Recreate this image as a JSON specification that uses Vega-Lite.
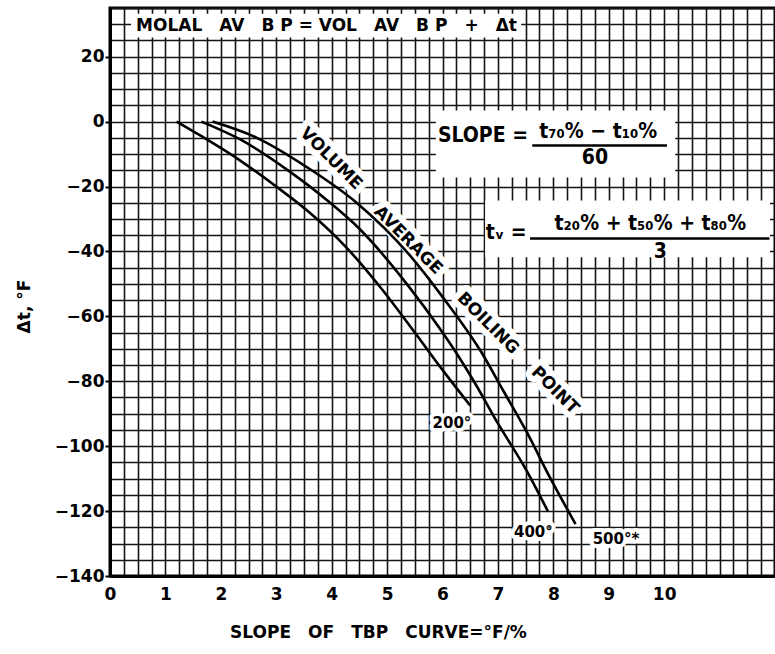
{
  "$schema": "https://vega.github.io/schema/vega-lite/v6.json",
  "width": 665,
  "height": 568,
  "autosize": "none",
  "padding": {"left": 110, "top": 8, "right": 0, "bottom": 78},
  "background": "white",
  "config": {"view": {"stroke": "black", "strokeWidth": 3}, "font": "DejaVu Sans"},
  "datasets": {
    "curves": [
      {"series": "200", "x": 1.2, "y": 0}, {"series": "200", "x": 1.65, "y": -4.5}, {"series": "200", "x": 2.35, "y": -12},
      {"series": "200", "x": 3.0, "y": -20}, {"series": "200", "x": 3.6, "y": -28}, {"series": "200", "x": 4.25, "y": -38.5},
      {"series": "200", "x": 4.9, "y": -51.5}, {"series": "200", "x": 5.5, "y": -65}, {"series": "200", "x": 6.0, "y": -76.5},
      {"series": "200", "x": 6.5, "y": -87.5},
      {"series": "400", "x": 1.65, "y": 0}, {"series": "400", "x": 2.35, "y": -5.5}, {"series": "400", "x": 3.25, "y": -15.5},
      {"series": "400", "x": 3.9, "y": -24}, {"series": "400", "x": 4.5, "y": -33}, {"series": "400", "x": 5.4, "y": -51},
      {"series": "400", "x": 5.9, "y": -62.5}, {"series": "400", "x": 6.2, "y": -70}, {"series": "400", "x": 6.6, "y": -81},
      {"series": "400", "x": 7.0, "y": -93}, {"series": "400", "x": 7.5, "y": -107}, {"series": "400", "x": 7.9, "y": -120},
      {"series": "500", "x": 1.85, "y": 0}, {"series": "500", "x": 2.65, "y": -5}, {"series": "500", "x": 3.55, "y": -14},
      {"series": "500", "x": 4.45, "y": -25}, {"series": "500", "x": 5.4, "y": -41}, {"series": "500", "x": 6.0, "y": -54},
      {"series": "500", "x": 6.7, "y": -71}, {"series": "500", "x": 7.1, "y": -83}, {"series": "500", "x": 7.5, "y": -95},
      {"series": "500", "x": 7.95, "y": -110}, {"series": "500", "x": 8.4, "y": -124}
    ],
    "boxes": [
      {"x": 0.38, "x2": 7.42, "y": 33.2, "y2": 25.9},
      {"x": 5.88, "x2": 10.2, "y": 3.4, "y2": -17.2},
      {"x": 6.77, "x2": 11.91, "y": -24.3, "y2": -41.8}
    ],
    "fracs": [
      {"x": 7.62, "x2": 10.05, "y": -7.4},
      {"x": 7.58, "x2": 11.9, "y": -36}
    ],
    "title": [{"x": 0.47, "y": 29.5, "text": "MOLAL\u2003AV\u2003B P = VOL\u2003AV\u2003B P\u2003+\u2003Δt"}],
    "formulas": [
      {"x": 6.73, "y": -4.3, "text": "SLOPE ="},
      {"x": 8.81, "y": -3.2, "text": "t₇₀% − t₁₀%"},
      {"x": 8.75, "y": -11.2, "text": "60"},
      {"x": 7.15, "y": -34.3, "text": "tᵥ ="},
      {"x": 9.75, "y": -31.6, "text": "t₂₀% + t₅₀% + t₈₀%"},
      {"x": 9.93, "y": -40.2, "text": "3"}
    ],
    "labels": [
      {"x": 6.17, "y": -93, "text": "200°"},
      {"x": 7.64, "y": -126.5, "text": "400°"},
      {"x": 9.13, "y": -128.6, "text": "500°*"}
    ],
    "words": [
      {"x": 3.99, "y": -11.4, "text": "VOLUME"},
      {"x": 5.38, "y": -36.6, "text": "AVERAGE"},
      {"x": 6.82, "y": -62.2, "text": "BOILING"},
      {"x": 8.03, "y": -82.8, "text": "POINT"}
    ]
  },
  "encoding": {
    "x": {
      "field": "x", "type": "quantitative",
      "scale": {"domain": [0, 12], "nice": false, "zero": false},
      "axis": {
        "title": "SLOPE\u2003OF\u2003TBP\u2003CURVE=°F/%",
        "values": [0,0.25,0.5,0.75,1,1.25,1.5,1.75,2,2.25,2.5,2.75,3,3.25,3.5,3.75,4,4.25,4.5,4.75,5,5.25,5.5,5.75,6,6.25,6.5,6.75,7,7.25,7.5,7.75,8,8.25,8.5,8.75,9,9.25,9.5,9.75,10,10.25,10.5,10.75,11,11.25,11.5,11.75,12],
        "labelExpr": "(datum.value % 1 === 0 && datum.value <= 10) ? format(datum.value, 'd') : ''",
        "grid": true, "gridColor": "#151515", "gridWidth": 1.6, "gridOpacity": 1,
        "ticks": false,
        "domainColor": "black", "domainWidth": 3,
        "labelOverlap": false, "labelFlush": false,
        "labelFont": "DejaVu Sans", "labelFontWeight": "bold", "labelFontSize": 17, "labelColor": "black", "labelPadding": 10,
        "titleFont": "DejaVu Sans", "titleFontWeight": "bold", "titleFontSize": 17, "titleColor": "black",
        "titleX": 268, "titleY": 56, "titleAlign": "center", "titleBaseline": "middle"
      }
    },
    "y": {
      "field": "y", "type": "quantitative",
      "scale": {"domain": [-140, 35], "nice": false, "zero": false},
      "axis": {
        "title": "Δt, °F",
        "values": [-140,-135,-130,-125,-120,-115,-110,-105,-100,-95,-90,-85,-80,-75,-70,-65,-60,-55,-50,-45,-40,-35,-30,-25,-20,-15,-10,-5,0,5,10,15,20,25,30,35],
        "labelExpr": "(datum.value % 20 === 0 && datum.value <= 20) ? datum.label : ''",
        "grid": true, "gridColor": "#151515", "gridWidth": 1.6, "gridOpacity": 1,
        "ticks": true, "tickColor": "black", "tickWidth": 2, "tickSize": 5,
        "tickOpacity": {"condition": {"test": "datum.value % 20 === 0 && datum.value <= 20", "value": 1}, "value": 0},
        "domainColor": "black", "domainWidth": 3,
        "labelOverlap": false, "labelFlush": false,
        "labelFont": "DejaVu Sans", "labelFontWeight": "bold", "labelFontSize": 17, "labelColor": "black", "labelPadding": 1,
        "titleFont": "DejaVu Sans", "titleFontWeight": "bold", "titleFontSize": 17, "titleColor": "black",
        "titleX": -86, "titleY": 298, "titleAlign": "center", "titleBaseline": "middle", "titleAngle": 270
      }
    }
  },
  "layer": [
    {
      "data": {"name": "boxes"},
      "mark": {"type": "rect", "fill": "white", "stroke": null},
      "encoding": {"x2": {"field": "x2"}, "y2": {"field": "y2"}}
    },
    {
      "data": {"name": "words"},
      "mark": {"type": "text", "angle": 45, "align": "center", "baseline": "middle", "font": "DejaVu Sans", "fontWeight": "bold", "fontSize": 17, "fill": "white", "stroke": "white", "strokeWidth": 12, "strokeJoin": "round"},
      "encoding": {"text": {"field": "text"}}
    },
    {
      "data": {"name": "labels"},
      "mark": {"type": "text", "align": "center", "baseline": "middle", "font": "DejaVu Sans", "fontWeight": "bold", "fontSize": 15, "fill": "white", "stroke": "white", "strokeWidth": 8, "strokeJoin": "round"},
      "encoding": {"text": {"field": "text"}}
    },
    {
      "data": {"name": "curves"},
      "mark": {"type": "line", "color": "black", "strokeWidth": 2.6, "interpolate": "monotone"},
      "encoding": {"detail": {"field": "series"}}
    },
    {
      "data": {"name": "fracs"},
      "mark": {"type": "rule", "color": "black", "strokeWidth": 2.5},
      "encoding": {"x2": {"field": "x2"}}
    },
    {
      "data": {"name": "title"},
      "mark": {"type": "text", "align": "left", "baseline": "middle", "font": "DejaVu Sans", "fontWeight": "bold", "fontSize": 17, "color": "black"},
      "encoding": {"text": {"field": "text"}}
    },
    {
      "data": {"name": "formulas"},
      "mark": {"type": "text", "align": "center", "baseline": "middle", "font": "DejaVu Sans Condensed", "fontWeight": "bold", "fontSize": 21, "color": "black"},
      "encoding": {"text": {"field": "text"}}
    },
    {
      "data": {"name": "labels"},
      "mark": {"type": "text", "align": "center", "baseline": "middle", "font": "DejaVu Sans", "fontWeight": "bold", "fontSize": 15, "color": "black"},
      "encoding": {"text": {"field": "text"}}
    },
    {
      "data": {"name": "words"},
      "mark": {"type": "text", "angle": 45, "align": "center", "baseline": "middle", "font": "DejaVu Sans", "fontWeight": "bold", "fontSize": 17, "color": "black"},
      "encoding": {"text": {"field": "text"}}
    }
  ]
}
